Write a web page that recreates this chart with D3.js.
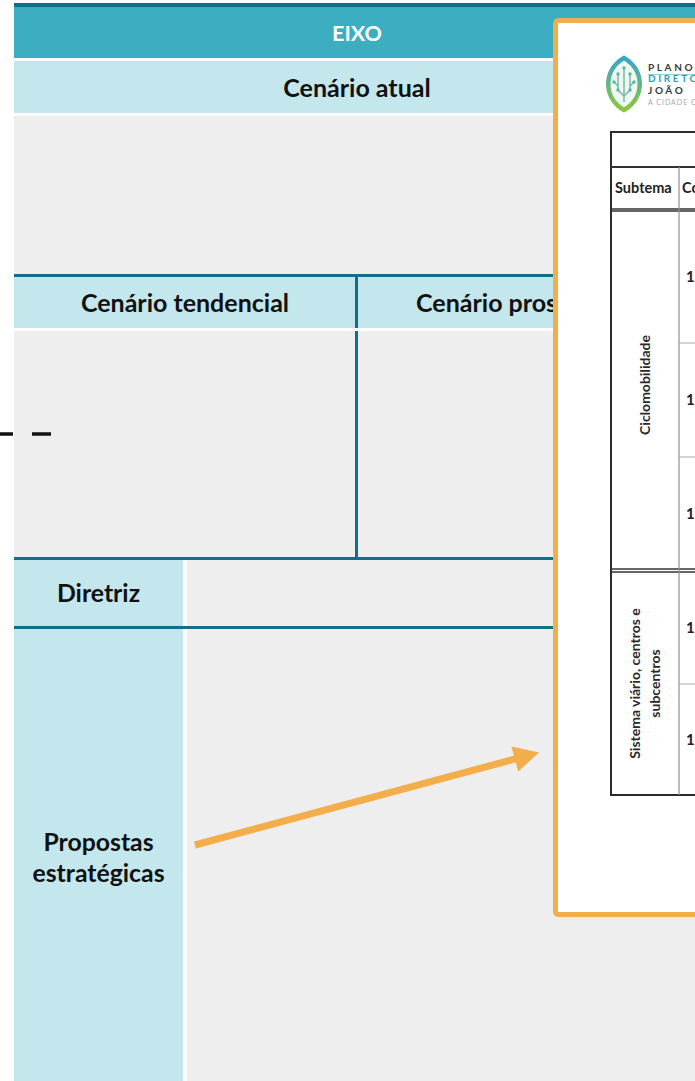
<!DOCTYPE html>
<html><head><meta charset="utf-8">
<script src="https://cdn.jsdelivr.net/npm/d3@7"></script>
<style>html,body{margin:0;padding:0;background:#fff;overflow:hidden}svg{display:block}</style>
</head><body>
<script>
// ---- content (text only) ----
const headerLabels = ["EIXO", "Cenário atual"];
const scenarioLabels = ["Cenário tendencial", "Cenário prospectivo"];
const sideLabels = [["Diretriz"], ["Propostas", "estratégicas"]];
const logoLines = ["PLANO", "DIRETOR", "JOÃO", "A CIDADE QUE"];
const tableHeaders = ["Subtema", "Componente"];
const subtemas = [["Ciclomobilidade"], ["Sistema viário, centros e", "subcentros"]];
const subtemaRowCounts = [3, 2];
const rowNumbers = ["1", "1", "1", "1", "1"];

// ---- layout ----
const W = 695, H = 1081;
const C = {dark:"#0f7189", teal:"#3daec2", light:"#c4e7ed", gray:"#eeeeee", orange:"#f4ad4b", ink:"#111"};
const x = d3.scaleLinear().domain([0, 1]).range([14, 700]);
const mid = 356;
const sideW = 183;
const font = "Lato, 'Open Sans', sans-serif";

const svg = d3.select("body").append("svg").attr("width", W).attr("height", H);

const bands = [
  {y0:3, y1:7, fill:C.dark},
  {y0:7, y1:58, fill:C.teal},
  {y0:61, y1:113, fill:C.light},
  {y0:116, y1:274, fill:C.gray},
  {y0:274, y1:277, fill:C.dark},
  {y0:277, y1:328, fill:C.light},
  {y0:331, y1:557, fill:C.gray},
  {y0:557, y1:560, fill:C.dark},
  {y0:560, y1:626, fill:C.gray},
  {y0:626, y1:629, fill:C.dark},
  {y0:629, y1:H, fill:C.gray}
];
svg.selectAll("rect.band").data(bands).join("rect").attr("class","band")
  .attr("x", x(0)).attr("width", x(1)-x(0))
  .attr("y", d=>d.y0).attr("height", d=>d.y1-d.y0).attr("fill", d=>d.fill);

const sideCells = [{y0:560, y1:626}, {y0:629, y1:H}];
svg.selectAll("rect.side").data(sideCells).join("rect").attr("class","side")
  .attr("x", x(0)).attr("width", sideW - x(0)).attr("y", d=>d.y0).attr("height", d=>d.y1-d.y0)
  .attr("fill", C.light);
svg.selectAll("rect.sep").data(sideCells).join("rect").attr("class","sep")
  .attr("x", sideW).attr("width", 4).attr("y", d=>d.y0).attr("height", d=>d.y1-d.y0).attr("fill", "#fff");

svg.append("rect").attr("x", mid-1).attr("width", 3).attr("y", 274).attr("height", 286).attr("fill", C.dark);
svg.append("rect").attr("x", mid-1).attr("width", 3).attr("y", 328).attr("height", 3).attr("fill", "#fff");

svg.append("text").attr("x", (x(0)+x(1))/2).attr("y", 41).attr("text-anchor","middle")
  .attr("font-family", font).attr("font-weight", 700).attr("font-size", 21.5).attr("fill", "#fff").text(headerLabels[0]);
svg.append("text").attr("x", (x(0)+x(1))/2).attr("y", 97).attr("text-anchor","middle")
  .attr("font-family", font).attr("font-weight", 700).attr("font-size", 25).attr("fill", C.ink).text(headerLabels[1]);
const scenCenters = [(x(0)+mid)/2, (mid+x(1))/2];
svg.selectAll("text.scen").data(scenarioLabels).join("text").attr("class","scen")
  .attr("x", (d,i)=>scenCenters[i]).attr("y", 312).attr("text-anchor","middle")
  .attr("font-family", font).attr("font-weight", 700).attr("font-size", 25).attr("fill", C.ink).text(d=>d);

const sideCenters = [602, 851];
sideLabels.forEach((lines, i) => {
  const t = svg.append("text").attr("text-anchor","middle").attr("font-family", font)
    .attr("font-weight", 700).attr("font-size", 24.8).attr("fill", C.ink);
  lines.forEach((l, j) => t.append("tspan").attr("x", (x(0)+sideW)/2)
    .attr("y", sideCenters[i] + j*31).text(l));
});

svg.selectAll("line.dash").data([[0,13],[32,51]]).join("line").attr("class","dash")
  .attr("x1", d=>d[0]).attr("x2", d=>d[1]).attr("y1", 434).attr("y2", 434)
  .attr("stroke", "#111").attr("stroke-width", 3.5);

// ---- orange framed inset ----
svg.append("rect").attr("x", 555.5).attr("y", 20.5).attr("width", 200).attr("height", 894)
  .attr("rx", 3).attr("fill", "#fff").attr("stroke", C.orange).attr("stroke-width", 5);

const defs = svg.append("defs");
const grad = defs.append("linearGradient").attr("id","leafg").attr("x1","0").attr("y1","0").attr("x2","0").attr("y2","1");
grad.append("stop").attr("offset","0%").attr("stop-color","#3aa6c9");
grad.append("stop").attr("offset","100%").attr("stop-color","#8cc63f");
const lx = 624, ly = 84;
svg.append("path").attr("d", `M${lx},${ly-26} C${lx+21},${ly-14} ${lx+21},${ly+14} ${lx},${ly+26} C${lx-21},${ly+14} ${lx-21},${ly-14} ${lx},${ly-26}Z`)
  .attr("fill","#eef7f0").attr("stroke","url(#leafg)").attr("stroke-width",4.5);
const branches = [[0,-16,0,18],[-6,-10,-6,6],[6,-10,6,6],[-6,6,0,12],[6,6,0,12],[-10,-2,-6,2],[10,-2,6,2]];
svg.selectAll("line.br").data(branches).join("line").attr("class","br")
  .attr("x1",d=>lx+d[0]).attr("y1",d=>ly+d[1]).attr("x2",d=>lx+d[2]).attr("y2",d=>ly+d[3])
  .attr("stroke","#6cb8a0").attr("stroke-width",1.4);
svg.selectAll("circle.bd").data(branches).join("circle").attr("class","bd")
  .attr("cx",d=>lx+d[0]).attr("cy",d=>ly+d[1]).attr("r",1.7).attr("fill","#5fb3b0");
const logoStyles = [
  {y:71, fill:"#3a3a3a", size:10, w:700, ls:2.6},
  {y:82, fill:"#2a9db8", size:10, w:700, ls:2.6},
  {y:94, fill:"#3a3a3a", size:10, w:700, ls:2.6},
  {y:105, fill:"#a8a8a8", size:7, w:400, ls:1}
];
svg.selectAll("text.logo").data(logoLines).join("text").attr("class","logo")
  .attr("x", 648).attr("y", (d,i)=>logoStyles[i].y).attr("font-family", font)
  .attr("font-size", (d,i)=>logoStyles[i].size).attr("font-weight",(d,i)=>logoStyles[i].w)
  .attr("letter-spacing",(d,i)=>logoStyles[i].ls).attr("fill",(d,i)=>logoStyles[i].fill).text(d=>d);
svg.append("line").attr("x1",648).attr("x2",700).attr("y1",74.5).attr("y2",74.5).attr("stroke","#8fd0de").attr("stroke-width",1);

const tL = 611, tR = 760, colX = 679, tTop = 132;
const rowEdges = [210, 343, 457, 570, 572, 684, 795];
const tb = svg.append("g");
tb.append("rect").attr("x", tL).attr("y", tTop).attr("width", tR-tL).attr("height", rowEdges[6]-tTop)
  .attr("fill","none").attr("stroke","#2b2b2b").attr("stroke-width",2);
[167, 209, 211, 569, 572].forEach(y => tb.append("line").attr("x1",tL).attr("x2",tR).attr("y1",y).attr("y2",y)
  .attr("stroke","#333").attr("stroke-width", y===167?2:1.5));
tb.append("line").attr("x1",colX).attr("x2",colX).attr("y1",167).attr("y2",rowEdges[6])
  .attr("stroke","#8d8d9c").attr("stroke-width",1.2);
[rowEdges[1], rowEdges[2], rowEdges[5]].forEach(y => tb.append("line").attr("x1",colX).attr("x2",tR)
  .attr("y1",y).attr("y2",y).attr("stroke","#a9a9bb").attr("stroke-width",1));
tb.selectAll("text.th").data(tableHeaders).join("text").attr("class","th")
  .attr("x",(d,i)=>i===0?tL+4:colX+3).attr("y",193).attr("font-family",font).attr("font-weight",700)
  .attr("font-size",14.5).attr("fill","#222").text(d=>d);
const groupSpans = [[rowEdges[0], rowEdges[3]], [rowEdges[4], rowEdges[6]]];
subtemas.forEach((lines, i) => {
  const cy = (groupSpans[i][0] + groupSpans[i][1]) / 2 - (i===0?5:0);
  const cx = (tL + colX) / 2;
  const g = tb.append("g").attr("transform", `translate(${cx},${cy}) rotate(-90)`);
  const n = lines.length;
  lines.forEach((l, j) => g.append("text").attr("x",0).attr("y", (j - (n-1)/2)*20 + 5)
    .attr("text-anchor","middle").attr("font-family",font).attr("font-weight",700)
    .attr("font-size",14).attr("fill","#2a2a2a").text(l));
});
const rowMids = [0,1,2].map(i => (rowEdges[i]+rowEdges[i+1])/2).concat([4,5].map(i => (rowEdges[i]+rowEdges[i+1])/2));
tb.selectAll("text.rn").data(rowNumbers).join("text").attr("class","rn")
  .attr("x", 686).attr("y",(d,i)=>rowMids[i]+5).attr("font-family",font).attr("font-weight",700)
  .attr("font-size",15).attr("fill","#222").text(d=>d);

const a0 = [195, 845], a1 = [539, 752.5];
const ang = Math.atan2(a1[1]-a0[1], a1[0]-a0[0]);
const headLen = 25, headW = 13;
const base = [a1[0]-headLen*Math.cos(ang), a1[1]-headLen*Math.sin(ang)];
svg.append("line").attr("x1",a0[0]).attr("y1",a0[1]).attr("x2",base[0]+2*Math.cos(ang)).attr("y2",base[1]+2*Math.sin(ang))
  .attr("stroke",C.orange).attr("stroke-width",7);
const px = -Math.sin(ang), py = Math.cos(ang);
svg.append("polygon").attr("points", [
  a1, [base[0]+px*headW, base[1]+py*headW], [base[0]-px*headW, base[1]-py*headW]
].map(p=>p.join(",")).join(" ")).attr("fill",C.orange);
</script>
</body></html>
